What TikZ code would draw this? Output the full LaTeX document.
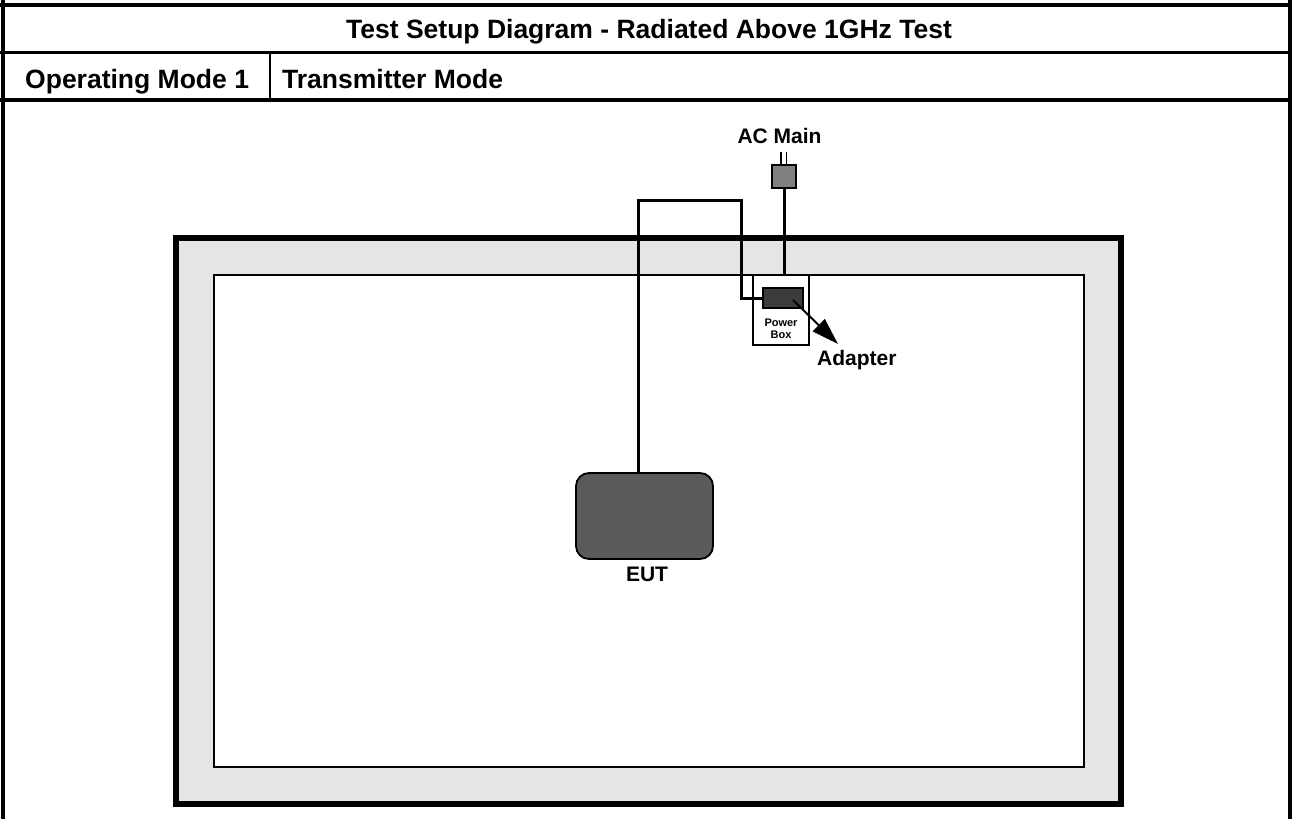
\documentclass[tikz,border=0pt]{standalone}
\usepackage{fontspec}
\setmainfont{Liberation Sans}
\usetikzlibrary{arrows.meta}
\definecolor{benchgray}{HTML}{E5E5E5}
\definecolor{eutgray}{HTML}{5A5A5A}
\definecolor{adgray}{HTML}{3C3C3C}
\definecolor{pluggray}{HTML}{808080}
\begin{document}
\begin{tikzpicture}[x=1pt,y=-1pt,
  hdr/.style={font=\bfseries\fontsize{26.5}{30}\selectfont, inner sep=0pt, anchor=base},
  lbl/.style={font=\bfseries\fontsize{21}{24}\selectfont, inner sep=0pt, anchor=base},
  tiny/.style={font=\bfseries\fontsize{11}{12}\selectfont, inner sep=0pt, anchor=base},
  box/.style={draw, inner sep=0pt, outer sep=0pt},
  cable/.style={line width=3pt},
  rulethick/.style={line width=3.5pt},
  ruleside/.style={line width=4.5pt}]
\useasboundingbox (0,0) rectangle (1292,819);
\fill[white] (0,0) rectangle (1292,819);
% header table
\coordinate (tl) at (0,5);
\coordinate (tr) at (1292,5);
\coordinate (ml) at (0,52.5);
\coordinate (mr) at (1292,52.5);
\coordinate (bl) at (0,100);
\coordinate (br) at (1292,100);
\coordinate (st) at (270,52.5);
\coordinate (sb) at (270,100);
\coordinate (lt) at (3,0);
\coordinate (lb) at (3,819);
\coordinate (rt) at (1290,0);
\coordinate (rb) at (1290,819);
\draw[rulethick] (tl) -- (tr);
\draw[rulethick] (ml) -- (mr);
\draw[rulethick] (bl) -- (br);
\draw[line width=1.8pt] (st) -- (sb);
\draw[ruleside] (lt) -- (lb);
\draw[ruleside] (rt) -- (rb);
\node[hdr] (title) at (649,38) {Test Setup Diagram - Radiated Above 1GHz Test};
\node[hdr, anchor=base west] (opmode) at (25,88) {Operating Mode 1};
\node[hdr, anchor=base west] (txmode) at (282,88) {Transmitter Mode};
% bench
\node[box, fill=benchgray, line width=6pt, minimum width=945pt, minimum height=566.5pt] (bench) at (648.5,521.2) {};
\node[box, fill=white, line width=1.8pt, minimum width=870pt, minimum height=492pt] (inner) at (649,521) {};
% power box
\node[box, fill=white, line width=1.8pt, minimum width=56pt, minimum height=70pt] (pbox) at (781,310) {};
\node[tiny] (pw) at (781,326) {Power};
\node[tiny] (bx) at (781,338.5) {Box};
% plug
\node[box, fill=pluggray, line width=1.8pt, minimum width=24pt, minimum height=23pt] (plug) at (784,176.5) {};
\coordinate (p1) at (781,152);
\coordinate (p2) at (786.5,152);
\draw[line width=1.6pt] (p1) -- (p1 |- plug.north);
\draw[line width=1.6pt] (p2) -- (p2 |- plug.north);
\node[lbl] (acmain) at (779.5,143) {AC Main};
% adapter
\node[box, fill=adgray, line width=1.8pt, minimum width=40pt, minimum height=20pt] (adapter) at (783,298) {};
% EUT
\node[box, fill=eutgray, line width=1.8pt, rounded corners=13pt, minimum width=137pt, minimum height=86pt] (eut) at (644.5,516) {};
\node[lbl] (eutlbl) at (647,581) {EUT};
% cables
\coordinate (bend) at (741,200);
\draw[cable] ([xshift=-6.5pt]eut.north) |- (bend) |- (adapter.west);
\draw[cable] (plug.south) -- (plug.south |- pbox.north);
% redraw adapter on top of cable end
\node[box, fill=adgray, line width=1.8pt, minimum width=40pt, minimum height=20pt] at (adapter) {};
% adapter arrow
\coordinate (adsrc) at (793,300);
\coordinate (adtip) at (838,344);
\draw[line width=2pt, -{Triangle[length=27pt,width=17pt]}] (adsrc) -- (adtip);
\node[lbl, anchor=base west] (adlbl) at (817,365) {Adapter};
\end{tikzpicture}
\end{document}
